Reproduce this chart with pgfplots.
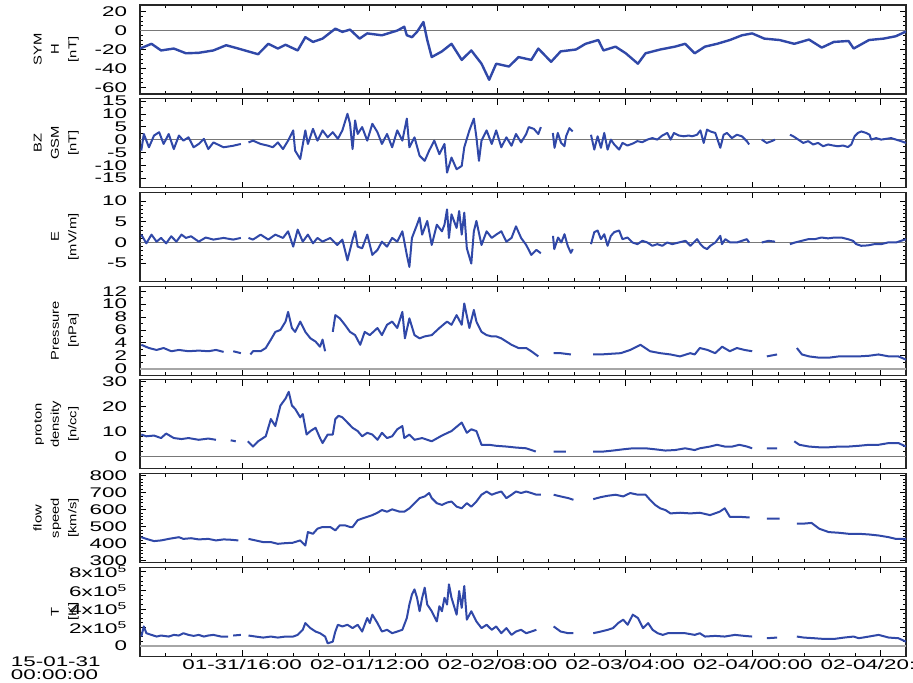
\documentclass[border=0pt]{standalone}
\usepackage{fontspec}
\setmainfont{Liberation Sans}
\newfontfamily\tickfont[FakeStretch=1.6]{Liberation Sans}
\newfontfamily\labfont[FakeStretch=1.3]{Liberation Sans}
\usepackage{pgfplots}
\pgfplotsset{compat=1.18}
\definecolor{dblue}{RGB}{48,72,168}
\definecolor{zline}{RGB}{120,120,120}
\pgfplotsset{
  panel/.style={
    scale only axis, width=574.5pt, height=66.75pt,
    anchor=north west,
    xmin=0, xmax=120,
    xtick={16,36,56,76,96,116},
    minor xtick={0,4,...,120},
    xticklabels={},
    tick align=inside,
    major tick length=4.5pt, minor tick length=2.3pt,
    axis line style={line width=0.8pt, black!85},
    every tick/.style={black, line width=0.6pt},
    every minor tick/.style={black, line width=0.5pt},
    minor y tick num=3,
    yticklabel style={font=\fontsize{10.5}{12}\selectfont\tickfont, anchor=east, inner sep=0pt, xshift=-9.5pt},
    xticklabel style={font=\fontsize{10.5}{12}\selectfont\tickfont, anchor=north, inner sep=0pt, yshift=-2pt},
    /pgf/number format/assume math mode=true,
    scaled y ticks=false,
    unbounded coords=jump,
    every axis y label/.style={at={(axis description cs:-0.078,0.5)}, rotate=90, anchor=south, align=center, inner sep=1pt, font=\fontsize{8.5}{13}\selectfont\labfont},
  },
  data/.style={dblue, line width=1.5pt, line join=round},
  zero/.style={zline, line width=1pt, forget plot},
}
\begin{document}
\begin{tikzpicture}
\useasboundingbox (0,0) rectangle (684.75pt,511.5pt);

% Panel 1: SYM-H
\begin{axis}[panel, at={(105pt,507.75pt)}, ymin=-67, ymax=27, ytick={-60,-40,-20,0,20}, ylabel={SYM\\H\\{[nT]}}]
\addplot[zero] coordinates {(0,0) (120,0)};
\addplot[data, line width=1.8pt] coordinates {
(0.0,-19) (1.8,-14) (3.3,-21) (5.3,-19) (7.2,-24) (9.2,-23.5) (11.5,-21) (13.5,-15.5) (15.4,-19) (18.5,-25) (20.1,-14) (21.6,-19) (22.8,-15) (24.7,-21) (25.9,-7) (27.1,-12) (28.6,-8.5) (30.6,2) (31.7,-1.4) (32.9,1) (34.4,-8.5) (35.6,-3) (37.9,-5) (40.3,0) (41.4,4) (41.8,-5) (42.6,-7) (43.4,-1.4) (44.4,9) (45.0,-10) (45.7,-28) (47.3,-22) (48.8,-14) (50.4,-31) (51.9,-21) (53.5,-35) (54.7,-52) (55.8,-35) (57.8,-38) (59.3,-28) (61.3,-31) (62.4,-19) (64.4,-33) (65.9,-22) (68.3,-20) (69.8,-14) (71.8,-10) (72.6,-21) (74.5,-17) (76.1,-24) (78.0,-35) (79.2,-24) (81.5,-20) (83.8,-17) (85.4,-14) (86.9,-24) (88.5,-17) (90.4,-14) (92.4,-10) (94.3,-5) (95.9,-3) (97.8,-8.5) (100.2,-10) (102.5,-14) (104.8,-9.5) (106.8,-18) (108.7,-12) (111.0,-11) (111.8,-19) (114.2,-10) (116.5,-8.5) (118.4,-6) (120,-1)
};
\end{axis}

% Panel 2: BZ GSM
\begin{axis}[panel, at={(105pt,437.475pt)}, ymin=-18.8, ymax=16, ytick={-15,-10,-5,0,5,10,15}, minor y tick num=1, ylabel={BZ\\GSM\\{[nT]}}]
\addplot[zero] coordinates {(0,0) (120,0)};
\addplot[data] coordinates {
(0.2,-4.3) (0.6,2.2) (1.4,-3.0) (2.2,1.6) (3.0,2.9) (3.7,-1.7) (4.5,2.2) (5.3,-3.7) (6.1,1.6) (6.8,-0.4) (7.6,0.9) (8.4,-3.0) (9.2,-1.7) (10.0,0.3) (10.7,-3.7) (11.5,-1.1) (13.1,-3.0) (14.6,-2.4) (15.8,-1.7) (16.4,nan)
(17.0,-1.1) (17.7,-0.4) (18.9,-1.7) (20.1,-2.4) (20.8,-3.0) (21.6,-1.1) (22.4,-3.7) (23.2,-0.4) (24.0,3.6) (24.3,-4.3) (25.1,-7.6) (25.9,3.6) (26.3,-1.7) (27.1,4.2) (27.8,-0.4) (28.6,3.6) (29.4,0.9) (30.2,2.9) (31.0,0.3) (31.7,3.6) (32.5,10.1) (32.9,6.2) (33.3,-3.7) (33.7,7.5) (34.1,2.2) (34.8,4.9) (35.6,-0.4) (36.4,6.2) (37.2,2.9) (37.9,-1.7) (38.7,2.2) (39.5,-3.0) (40.3,3.6) (41.1,-0.4) (41.8,8.2) (42.2,-3.0) (43.0,0.9) (43.8,-6.3) (44.6,-8.3) (45.3,-4.3) (46.1,-0.4) (46.9,-5.7) (47.7,-1.7) (48.1,-12.9) (48.8,-7.0) (49.6,-11.6) (50.4,-10.3) (50.8,-3.0) (51.6,3.6) (52.3,8.2) (52.7,0.9) (53.1,-8.3) (53.5,-0.4) (54.3,3.6) (55.1,-1.7) (55.8,3.6) (56.6,-3.0) (57.4,0.9) (58.2,-2.4) (58.9,2.2) (59.7,-1.1) (60.5,2.2) (60.9,4.9) (61.7,4.2) (62.4,2.2) (62.8,4.9) (63.8,nan)
(64.68,2.6) (64.94,-3.2) (65.45,2.6) (65.97,-1.3) (66.49,-2.6) (66.75,1.3) (67.27,4.5) (67.79,3.2) (69.0,nan)
(70.65,1.9) (71.17,-3.9) (71.69,1.3) (72.21,-3.2) (72.73,2.6) (73.25,-3.9) (73.77,0) (74.29,-1.9) (75.06,-3.9) (75.58,-1.3) (76.36,-2.3) (77.14,-1.6) (77.92,-0.6) (78.70,-1.0) (79.48,0) (80.26,0.6) (81.04,0) (81.82,1.6) (82.60,2.6) (83.12,0) (83.64,2.6) (84.42,1.6) (85.19,1.3) (85.97,1.6) (86.49,1.3) (87.27,1.9) (87.79,3.6) (88.31,-1.3) (88.83,3.9) (89.35,3.2) (90.13,2.6) (90.91,-3.2) (91.43,1.9) (91.95,2.6) (92.73,0.6) (93.51,1.9) (94.29,1.3) (95.06,-0.6) (95.43,-1.9) (96.4,nan)
(97.40,0) (98.18,-1.3) (98.96,-0.6) (99.48,0) (100.6,nan)
(101.82,1.9) (102.34,1.3) (103.12,0) (103.90,-1.3) (104.68,-0.6) (105.45,-1.9) (106.23,-1.3) (107.01,-2.6) (107.79,-1.9) (108.57,-2.3) (109.35,-2.6) (110.13,-2.3) (110.91,-2.9) (111.43,-1.9) (111.95,1.3) (112.47,2.6) (112.99,3.2) (113.77,2.6) (114.29,1.9) (114.55,0) (115.32,0.6) (116.10,0) (116.88,0.3) (117.66,0.6) (118.44,0) (119.22,-0.6) (120.0,-1.3)
};
\end{axis}

% Panel 3: E
\begin{axis}[panel, at={(105pt,367.2pt)}, ymin=-9.4, ymax=12.1, ytick={-5,0,5,10}, minor y tick num=4, ylabel={E\\{[mV/m]}}]
\addplot[zero] coordinates {(0,0) (120,0)};
\addplot[data] coordinates {
(0.2,1.9) (1.0,-0.2) (1.8,1.9) (2.6,0.2) (3.3,1.1) (4.1,-0.2) (4.9,1.5) (5.7,0.2) (6.5,1.9) (7.2,1.1) (8.0,1.5) (9.2,0.2) (10.3,1.2) (11.5,0.7) (13.1,1.1) (14.6,0.7) (15.8,1.1) (16.4,nan)
(17.0,1.1) (17.7,0.7) (18.9,1.9) (20.1,0.7) (21.2,1.9) (22.4,1.1) (23.2,2.7) (24.0,-1.0) (24.7,3.1) (25.5,0.2) (26.3,1.9) (27.1,-0.2) (27.8,1.1) (28.6,0.2) (29.8,1.1) (30.9,-0.6) (31.7,0.7) (32.5,-4.3) (33.3,0.7) (33.7,2.7) (34.1,-1.0) (34.8,-1.4) (35.6,1.9) (36.4,-3.0) (37.2,-1.8) (37.9,0.2) (38.7,-1.0) (39.5,1.1) (40.3,0.2) (41.1,2.7) (41.8,-3.0) (42.2,-5.9) (42.6,1.1) (43.4,4.3) (43.8,6.0) (44.2,1.9) (45.0,5.2) (45.7,-0.6) (46.5,4.3) (47.3,2.7) (47.7,4.3) (48.1,8.0) (48.4,1.1) (48.8,6.8) (49.6,3.5) (50.0,7.6) (50.4,1.9) (50.8,7.2) (51.2,-1.4) (51.9,-5.1) (52.3,2.7) (52.7,5.2) (53.5,-0.6) (54.3,2.7) (55.1,1.1) (55.8,1.9) (56.6,2.7) (57.4,0.2) (58.2,1.1) (58.9,3.9) (59.7,1.1) (60.5,-0.6) (61.3,-3.0) (62.1,-1.8) (62.8,-2.6) (63.8,nan)
(64.7,1.6) (64.9,-1.6) (65.5,1.2) (66.0,0) (66.5,2.0) (67.0,-0.8) (67.5,-2.5) (67.8,-1.6) (69.0,nan)
(70.65,-0.4) (71.17,2.5) (71.69,2.9) (72.21,0.8) (72.73,2.0) (73.25,-0.8) (73.77,1.6) (74.29,2.5) (75.06,2.9) (75.58,0.8) (76.36,1.2) (77.14,0) (77.92,-0.4) (78.70,0.4) (79.48,0) (80.26,-0.8) (81.04,-0.4) (81.82,-0.8) (82.60,0) (83.38,-0.4) (84.42,0) (85.45,0.4) (86.23,-0.8) (86.75,0) (87.27,0.8) (87.79,-0.4) (88.31,-1.2) (88.83,-1.6) (89.35,-0.8) (90.13,0) (90.91,1.6) (91.17,-0.4) (91.69,0.8) (92.47,0) (93.51,0) (94.29,0.4) (95.06,0.8) (95.43,0) (96.4,nan)
(97.4,0) (98.44,0.4) (99.48,0.2) (100.6,nan)
(101.82,-0.4) (102.6,0) (103.64,0.4) (104.68,0.8) (105.71,0.8) (106.75,1.2) (107.79,1.0) (108.83,1.2) (109.87,1.2) (110.91,0.8) (111.69,0.4) (112.21,-0.4) (112.99,-0.8) (114.03,-0.7) (115.06,-0.4) (116.10,-0.4) (117.14,0) (118.44,0) (119.22,0.4) (120,0.8)
};
\end{axis}

% Panel 4: Pressure
\begin{axis}[panel, at={(105pt,296.925pt)}, ymin=-1, ymax=12.8, ytick={0,2,4,6,8,10,12}, minor y tick num=1, ylabel={Pressure\\{[nPa]}}]
\addplot[zero, line width=1.6pt, black!35] coordinates {(0,0) (120,0)};
\addplot[data] coordinates {
(0.2,3.7) (1.4,3.2) (2.6,2.9) (3.7,3.2) (4.9,2.7) (6.1,2.9) (7.6,2.7) (9.2,2.8) (10.7,2.7) (11.9,2.9) (13.1,2.6) (13.8,nan) (14.6,2.7) (15.8,2.4) (16.5,nan)
(17.3,2.2) (17.7,2.7) (18.9,2.7) (19.7,3.2) (20.5,4.5) (21.2,5.7) (22.0,6.0) (22.8,7.3) (23.2,8.8) (23.8,6.3) (24.3,5.7) (25.1,7.3) (25.9,5.7) (26.7,4.7) (27.5,4.2) (28.2,3.4) (28.6,4.5) (29.0,2.7) (29.6,nan)
(30.2,5.7) (30.6,8.3) (31.3,7.8) (32.1,6.8) (32.9,5.7) (33.7,5.2) (34.5,3.7) (35.2,5.7) (36.0,5.2) (37.2,6.3) (37.9,5.2) (38.7,6.8) (39.5,7.3) (40.3,6.3) (41.1,8.8) (41.5,4.7) (42.2,7.8) (43.0,5.2) (43.8,4.7) (44.6,5.0) (45.7,5.2) (46.9,6.3) (48.1,7.3) (48.8,6.8) (49.6,8.3) (50.4,6.8) (50.8,10.1) (51.6,6.3) (52.3,9.1) (52.7,7.3) (53.5,5.7) (54.3,5.2) (55.1,5.0) (55.8,5.0) (56.6,4.7) (57.4,4.2) (58.2,3.7) (59.3,3.2) (60.5,3.2) (61.3,2.7) (62.4,1.9) (63.5,nan)
(64.8,2.4) (65.9,2.4) (67.5,2.2) (69.0,nan)
(71.0,2.2) (72.2,2.2) (73.7,2.3) (75.3,2.4) (76.8,2.9) (78.4,3.7) (79.9,2.7) (81.5,2.4) (83.1,2.2) (84.6,1.9) (86.2,2.4) (86.9,2.2) (87.7,3.2) (88.9,2.9) (90.1,2.4) (91.2,3.4) (92.4,2.7) (93.5,3.2) (94.7,2.9) (95.9,2.7) (97.0,nan)
(98.2,1.9) (99.8,2.2) (101.2,nan)
(102.9,3.2) (103.7,2.2) (104.8,1.9) (106.4,1.7) (107.9,1.7) (109.5,1.9) (111.0,1.9) (112.6,1.9) (114.2,2.0) (115.7,2.2) (117.3,1.9) (118.8,1.9) (120.0,1.4)
};
\end{axis}

% Panel 5: proton density
\begin{axis}[panel, at={(105pt,226.65pt)}, ymin=-4.8, ymax=30.8, ytick={0,10,20,30}, minor y tick num=4, ylabel={proton\\density\\{[n/cc]}}]
\addplot[zero] coordinates {(0,0) (120,0)};
\addplot[data] coordinates {
(0.2,8.9) (1.0,8.2) (2.2,8.5) (3.3,7.5) (4.1,9.3) (5.3,7.5) (6.5,7.1) (7.6,7.5) (9.2,6.8) (10.7,7.3) (11.9,6.8) (13.0,nan) (14.2,6.6) (15.0,6.2) (16.0,nan)
(16.9,6.2) (17.7,4.1) (18.5,6.2) (19.7,8.2) (20.5,15.1) (21.2,12.3) (22.0,20.5) (22.8,23.3) (23.3,26.0) (23.8,20.5) (24.3,19.2) (25.1,15.8) (25.5,17.1) (26.1,8.9) (26.7,10.3) (27.5,11.6) (28.2,7.5) (28.6,5.5) (29.4,8.9) (30.2,8.9) (30.6,15.1) (31.1,16.4) (31.7,15.8) (32.5,13.7) (33.3,11.6) (34.1,10.3) (34.8,8.2) (35.6,9.6) (36.4,8.9) (37.2,6.8) (37.9,9.6) (38.7,7.5) (39.5,8.2) (40.3,11.0) (41.1,12.3) (41.4,7.5) (42.2,8.9) (43.0,6.8) (44.2,7.5) (45.7,6.2) (47.3,8.5) (48.8,10.3) (50.4,13.7) (51.2,9.6) (51.9,11.0) (52.7,10.3) (53.5,4.8) (54.7,4.8) (55.8,4.4) (57.4,4.1) (58.9,3.7) (60.5,3.4) (62.0,2.1) (63.4,nan)
(64.8,2.1) (66.7,2.1) (68.8,nan)
(71.0,2.1) (72.6,2.1) (74.1,2.5) (75.7,3.0) (77.2,3.4) (79.2,3.4) (80.7,3.0) (82.3,2.5) (83.8,2.7) (85.4,3.4) (86.9,2.7) (87.7,3.4) (89.3,4.1) (90.4,4.8) (91.6,4.1) (92.8,4.1) (93.9,4.8) (95.1,4.1) (95.9,3.4) (97.0,nan)
(98.2,3.4) (99.8,3.4) (101.2,nan)
(102.5,6.2) (103.3,4.8) (104.8,4.1) (106.4,3.8) (107.9,3.8) (109.5,4.1) (111.0,4.1) (112.6,4.4) (114.2,4.8) (115.7,4.8) (117.3,5.5) (118.8,5.5) (120.0,4.1)
};
\end{axis}

% Panel 6: flow speed
\begin{axis}[panel, at={(105pt,156.375pt)}, ymin=288, ymax=812, ytick={300,400,500,600,700,800}, minor y tick num=4, ylabel={flow\\speed\\{[km/s]}}]
\addplot[data] coordinates {
(0.2,437) (1.0,427) (2.2,414) (3.3,418) (4.5,427) (6.1,437) (6.8,427) (8.0,431) (9.2,424) (10.7,427) (11.9,418) (13.1,424) (14.2,422) (15.4,418) (16.2,nan)
(17.0,427) (18.1,418) (19.3,408) (20.5,408) (21.6,398) (22.8,402) (23.9,404) (25.1,418) (25.9,388) (26.3,467) (27.1,457) (27.8,487) (28.6,497) (29.8,497) (30.6,477) (31.3,507) (32.1,507) (32.9,497) (33.3,497) (34.1,537) (34.8,547) (35.6,557) (36.4,567) (37.2,581) (37.9,597) (38.7,587) (39.5,601) (40.7,587) (41.4,587) (42.2,607) (43.0,637) (43.8,667) (44.6,677) (45.3,697) (45.7,667) (46.5,637) (47.3,627) (48.1,641) (48.8,647) (49.6,617) (50.4,607) (51.2,637) (51.9,617) (52.7,647) (53.5,687) (54.3,706) (55.1,687) (55.8,697) (56.6,706) (57.4,667) (58.2,687) (58.9,706) (59.7,697) (60.5,706) (61.3,697) (62.1,687) (62.8,687) (63.8,nan)
(64.8,687) (65.9,677) (67.1,667) (67.9,657) (69.2,nan)
(71.0,661) (72.2,673) (73.3,681) (74.5,687) (75.7,677) (76.8,697) (78.0,687) (79.2,687) (79.9,657) (80.7,627) (81.5,607) (82.3,597) (83.1,577) (84.6,581) (86.2,577) (87.7,581) (89.3,567) (90.8,587) (91.6,607) (92.4,557) (93.9,557) (95.5,553) (96.8,nan)
(98.2,547) (99.4,547) (100.2,547) (101.4,nan)
(102.9,517) (104.0,517) (105.2,521) (106.4,487) (107.9,467) (109.5,463) (111.0,457) (112.6,457) (114.2,453) (115.7,447) (117.3,437) (118.4,427) (120.0,427)
};
\end{axis}

% Panel 7: T
\begin{axis}[panel, at={(105pt,86.1pt)}, ymin=-110000, ymax=850000, ytick={0,200000,400000,600000,800000},
  yticklabels={0,2x10\textsuperscript{5},4x10\textsuperscript{5},6x10\textsuperscript{5},8x10\textsuperscript{5}},
  minor y tick num=3, ylabel={T\\{[K]}},
  xticklabels={01-31/16:00,02-01/12:00,02-02/08:00,02-03/04:00,02-04/00:00,02-04/20:00}]
\addplot[zero, line width=1.6pt, black!35] coordinates {(0,0) (120,0)};
\addplot[data] coordinates {
(0.2,102000) (0.6,211000) (1.0,138000) (1.8,120000) (2.6,102000) (3.3,113000) (4.5,102000) (5.3,120000) (6.1,113000) (6.8,138000) (7.6,120000) (8.4,109000) (9.2,120000) (10.0,102000) (10.7,113000) (11.5,120000) (12.7,102000) (13.8,102000) (14.2,nan) (14.6,113000) (15.8,120000) (16.4,nan)
(17.0,113000) (18.1,102000) (19.3,91000) (20.5,102000) (21.6,91000) (22.8,102000) (24.0,102000) (24.7,120000) (25.5,175000) (25.9,247000) (26.7,193000) (27.5,156000) (28.2,138000) (29.0,102000) (29.4,29000) (30.2,47000) (30.6,156000) (31.0,229000) (31.7,211000) (32.5,229000) (33.3,193000) (34.1,229000) (34.8,156000) (35.6,302000) (36.0,247000) (36.4,338000) (37.2,247000) (37.9,156000) (38.7,175000) (39.5,138000) (40.3,156000) (41.1,175000) (41.4,229000) (41.8,302000) (42.2,447000) (42.6,556000) (43.0,611000) (43.4,520000) (43.8,375000) (44.2,520000) (44.6,629000) (45.0,447000) (45.7,375000) (46.5,265000) (46.9,429000) (47.3,375000) (47.7,520000) (48.1,447000) (48.4,665000) (48.8,520000) (49.6,338000) (50.0,593000) (50.4,411000) (50.8,647000) (51.2,284000) (51.9,375000) (52.7,265000) (53.5,193000) (54.3,229000) (55.1,175000) (55.8,211000) (56.6,138000) (57.4,193000) (58.2,120000) (58.9,156000) (59.7,175000) (60.5,138000) (61.3,156000) (62.1,175000) (63.4,nan)
(64.8,211000) (65.9,156000) (67.1,138000) (67.9,138000) (69.2,nan)
(71.0,138000) (72.2,156000) (73.3,175000) (74.1,193000) (74.9,247000) (75.7,284000) (76.4,229000) (77.2,338000) (78.0,302000) (78.8,193000) (79.6,247000) (80.3,175000) (81.1,138000) (81.9,120000) (82.7,138000) (83.8,138000) (85.4,138000) (86.9,120000) (87.7,138000) (88.5,102000) (90.1,109000) (91.6,102000) (93.2,120000) (94.7,109000) (95.9,102000) (97.0,nan)
(98.2,84000) (99.8,91000) (101.2,nan)
(102.9,102000) (104.0,91000) (105.6,84000) (107.2,76000) (108.7,76000) (110.3,91000) (111.8,102000) (112.6,84000) (114.2,102000) (115.7,120000) (117.3,91000) (118.8,84000) (120.0,47000)
};
\end{axis}

\node[anchor=west, align=left, inner sep=0pt, font=\fontsize{10.5}{9.8}\selectfont\tickfont] at (8pt,10.5pt) {15-01-31\\00:00:00};
\end{tikzpicture}
\end{document}
